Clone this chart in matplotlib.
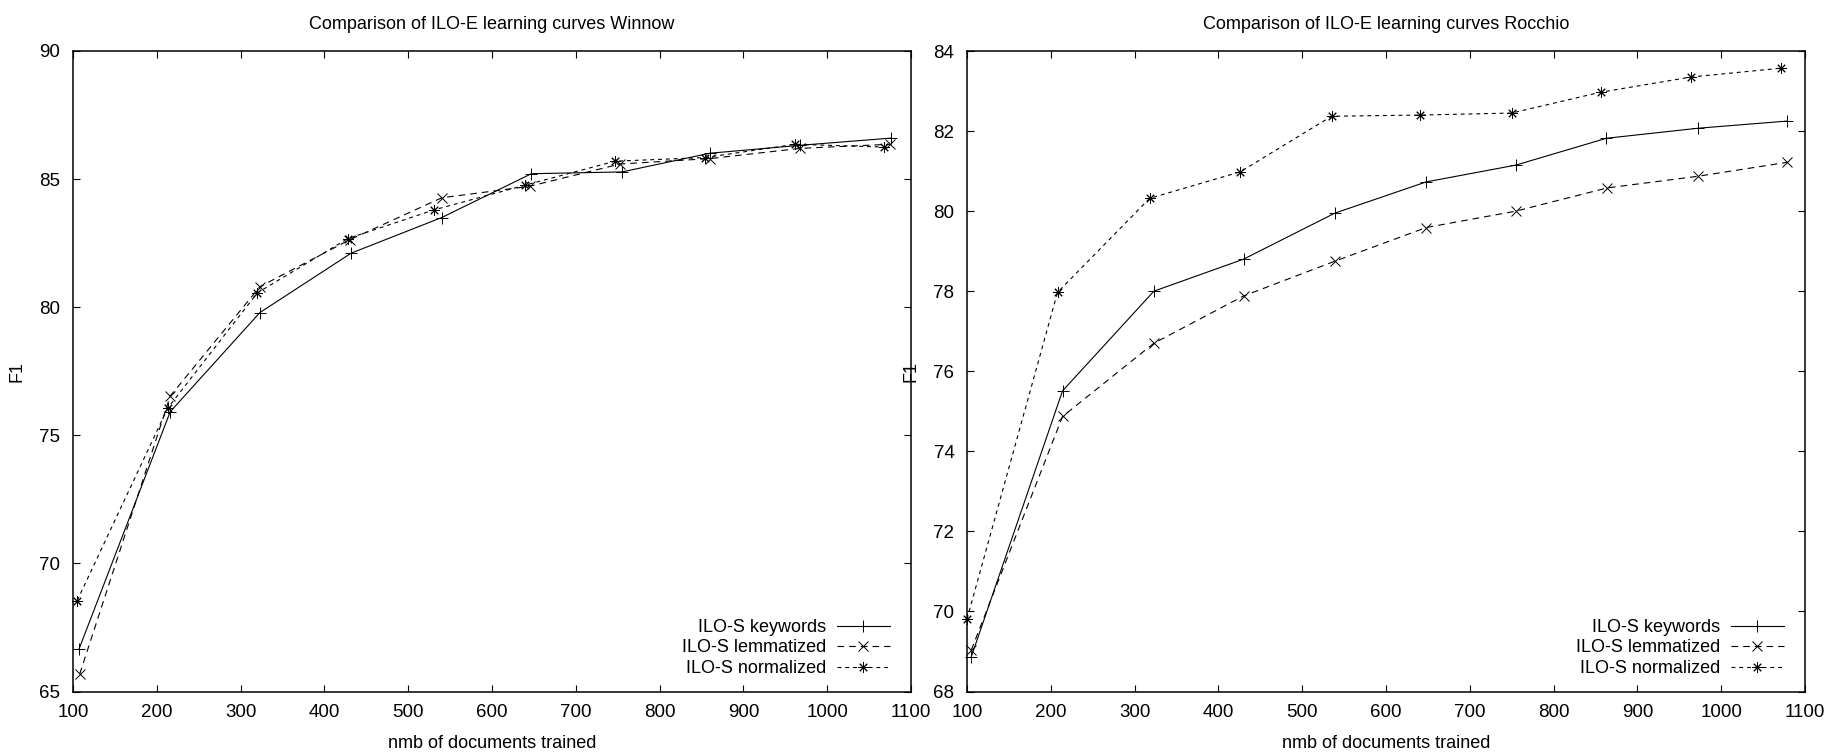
import matplotlib
matplotlib.use('Agg')
import matplotlib.pyplot as plt

plt.rcParams['font.family'] = ['Liberation Sans', 'DejaVu Sans']

# Winnow curves (left)
win_kw_x = [107, 216, 323, 432, 540, 647, 755, 860, 968, 1076]
win_kw_y = [66.64, 75.92, 79.79, 82.11, 83.50, 85.21, 85.28, 86.01, 86.32, 86.60]
win_lem_x = [108, 216, 323, 430, 540, 645, 753, 860, 968, 1075]
win_lem_y = [65.68, 76.53, 80.80, 82.63, 84.27, 84.72, 85.59, 85.80, 86.20, 86.36]
win_nor_x = [105, 213, 320, 428, 531, 639, 747, 854, 962, 1068]
win_nor_y = [68.55, 76.06, 80.56, 82.68, 83.80, 84.76, 85.70, 85.84, 86.36, 86.25]

# Rocchio curves (right)
roc_kw_x = [105, 214, 323, 430, 539, 648, 755, 863, 972, 1079]
roc_kw_y = [68.86, 75.51, 78.00, 78.80, 79.95, 80.73, 81.15, 81.82, 82.07, 82.25]
roc_lem_x = [105, 214, 323, 430, 539, 648, 755, 864, 972, 1079]
roc_lem_y = [69.03, 74.87, 76.70, 77.88, 78.75, 79.59, 80.00, 80.58, 80.87, 81.22]
roc_nor_x = [100, 208, 318, 426, 535, 641, 750, 856, 964, 1071]
roc_nor_y = [69.81, 77.97, 80.32, 80.98, 82.37, 82.40, 82.45, 82.97, 83.35, 83.57]

labels = ['ILO-S keywords', 'ILO-S lemmatized', 'ILO-S normalized']
titles = ['Comparison of ILO-E learning curves Winnow',
          'Comparison of ILO-E learning curves Rocchio']
x_ticks = list(range(100, 1101, 100))
win_yticks = [65, 70, 75, 80, 85, 90]
roc_yticks = [68, 70, 72, 74, 76, 78, 80, 82, 84]

fig = plt.figure(figsize=(18.4, 7.55), dpi=100)
ax1 = fig.add_axes([73/1840, 1 - 691.5/755, 838/1840, 640.5/755])
ax2 = fig.add_axes([967/1840, 1 - 691.5/755, 838/1840, 640.5/755])

styles = [dict(ls='-', marker='+', ms=8),
          dict(ls=(0, (6, 4.5)), marker='x', ms=6.5),
          dict(ls=(0, (3.5, 3.5)), marker=(8, 2, 0), ms=7.5)]

fs = 13

def draw(ax, series, yticks, title):
    for (xs, ys), lab, st in zip(series, labels, styles):
        ax.plot(xs, ys, color='black', lw=0.8, mew=0.7, label=lab,
                clip_on=False, **st)
    ax.set_xlim(100, 1100)
    ax.set_ylim(yticks[0], yticks[-1])
    ax.set_xticks(x_ticks)
    ax.set_yticks(yticks)
    ax.tick_params(direction='in', top=True, right=True, length=5, width=0.8,
                   labelsize=fs + 0.5, pad=9)
    for s in ax.spines.values():
        s.set_linewidth(1.1)
    ax.set_title(title, fontsize=fs, pad=16)
    ax.set_xlabel('nmb of documents trained', fontsize=fs, labelpad=10)
    ax.set_ylabel('F1', fontsize=fs, labelpad=10)
    ax.legend(loc='lower right', bbox_to_anchor=(1 - 7/838, 0),
              frameon=False, markerfirst=False, numpoints=1,
              fontsize=fs, handlelength=2.9, handletextpad=0.6,
              labelspacing=0.2, borderaxespad=0.4)

draw(ax1, [(win_kw_x, win_kw_y), (win_lem_x, win_lem_y), (win_nor_x, win_nor_y)],
     win_yticks, titles[0])
draw(ax2, [(roc_kw_x, roc_kw_y), (roc_lem_x, roc_lem_y), (roc_nor_x, roc_nor_y)],
     roc_yticks, titles[1])

fig.savefig('out.png', dpi=100)
